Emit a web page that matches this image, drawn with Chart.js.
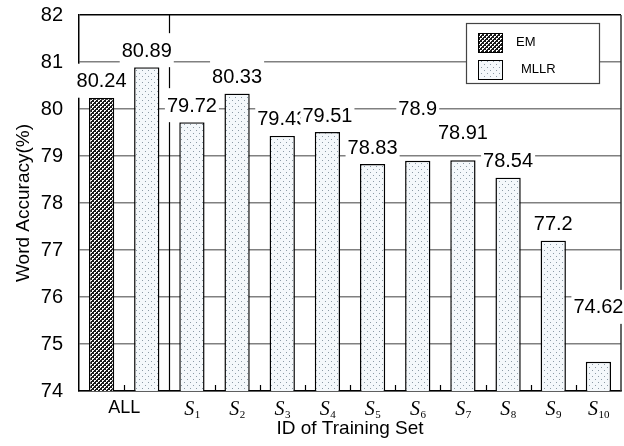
<!DOCTYPE html>
<html>
<head>
<meta charset="utf-8">
<script src="https://cdn.jsdelivr.net/npm/chart.js@4.4.0/dist/chart.umd.min.js"></script>
<style>
  body { margin: 0; background: #fff; }
</style>
</head>
<body>
<canvas id="myChart" width="624" height="446"></canvas>
<script>
// categorias (ALL ocupa dos posiciones: EM y MLLR)
const categories = ['ALL', 'ALL', 'S1', 'S2', 'S3', 'S4', 'S5', 'S6', 'S7', 'S8', 'S9', 'S10'];
const emValues = [80.24, null, null, null, null, null, null, null, null, null, null, null];
const mllrValues = [null, 80.89, 79.72, 80.33, 79.43, 79.51, 78.83, 78.9, 78.91, 78.54, 77.2, 74.62];
const yTicks = [74, 75, 76, 77, 78, 79, 80, 81, 82];

// desplazamiento extra de algunas etiquetas (px)
const labelLift = [0, 0, 0, 0, 0, 0, 0, 35, 11, 0, 0, 38];

const FONT = "'Liberation Sans', Arial, sans-serif";

/* patrones de relleno */
function makeHatch() {
    const c = document.createElement('canvas');
    c.width = 4; c.height = 4;
    const g = c.getContext('2d');
    g.fillStyle = '#ffffff';
    g.fillRect(0, 0, 4, 4);
    g.fillStyle = '#1a1a1a';
    for (let x = 0; x < 4; x++) {
        for (let y = 0; y < 4; y++) {
            if ((x + y) % 4 < 2 || (x - y + 8) % 4 === 0) g.fillRect(x, y, 1, 1);
        }
    }
    return g.createPattern(c, 'repeat');
}
function makeDots() {
    const c = document.createElement('canvas');
    c.width = 6; c.height = 6;
    const g = c.getContext('2d');
    g.fillStyle = '#f4f8fb';
    g.fillRect(0, 0, 6, 6);
    g.fillStyle = '#8c9ba6';
    g.fillRect(1, 1, 1, 1);
    g.fillRect(4, 4, 1, 1);
    return g.createPattern(c, 'repeat');
}
const hatch = makeHatch();
const dots = makeDots();

/* plugin: lineas, etiquetas de valores, leyenda y etiquetas del eje x */
const decor = {
    id: 'decor',
    beforeDatasetsDraw(chart) {
        const ctx = chart.ctx, a = chart.chartArea, xs = chart.scales.x;
        ctx.save();
        // borde derecho
        ctx.strokeStyle = '#333';
        ctx.lineWidth = 1.5;
        ctx.beginPath();
        ctx.moveTo(a.right, a.top);
        ctx.lineTo(a.right, a.bottom);
        ctx.stroke();
        // marcas entre categorias y separador ALL | S
        ctx.strokeStyle = '#000';
        ctx.lineWidth = 1.2;
        for (let i = 0; i < categories.length - 1; i++) {
            const px = Math.round((xs.getPixelForValue(i) + xs.getPixelForValue(i + 1)) / 2) + 0.5;
            const sep = categories[i] === 'ALL' && categories[i + 1] !== 'ALL';
            ctx.beginPath();
            ctx.moveTo(px, a.bottom);
            ctx.lineTo(px, sep ? a.top : a.bottom - 6);
            ctx.stroke();
        }
        ctx.restore();
    },
    afterDatasetsDraw(chart) {
        const ctx = chart.ctx, a = chart.chartArea, xs = chart.scales.x;
        ctx.save();
        // etiquetas con fondo blanco
        ctx.font = '20px ' + FONT;
        ctx.textAlign = 'center';
        ctx.textBaseline = 'middle';
        for (let i = 0; i < categories.length; i++) {
            chart.data.datasets.forEach((ds, di) => {
                const v = ds.data[i];
                if (v === null) return;
                const bar = chart.getDatasetMeta(di).data[i];
                const txt = String(v);
                const w = ctx.measureText(txt).width + 4;
                const cy = bar.y - 17 - labelLift[i];
                ctx.fillStyle = '#fff';
                ctx.fillRect(bar.x - w / 2, cy - 17, w, 34);
                ctx.fillStyle = '#000';
                ctx.fillText(txt, bar.x, cy + 1);
            });
        }

        // leyenda
        const lx = a.right - 155, ly = a.top + 8;
        ctx.fillStyle = '#fff';
        ctx.fillRect(lx, ly, 133, 60);
        ctx.strokeStyle = '#444';
        ctx.lineWidth = 1.2;
        ctx.strokeRect(lx + 0.5, ly + 0.5, 133, 60);
        const pats = [hatch, dots];
        chart.data.datasets.forEach((ds, di) => {
            const sy = ly + 10 + di * 27;
            ctx.fillStyle = pats[di];
            ctx.fillRect(lx + 12, sy, 24, 19);
            ctx.strokeStyle = '#000';
            ctx.lineWidth = 1;
            ctx.strokeRect(lx + 12.5, sy + 0.5, 24, 19);
            ctx.fillStyle = '#000';
            ctx.font = '13px ' + FONT;
            ctx.textAlign = 'left';
            ctx.fillText(ds.label, lx + 50 + di * 5, sy + 9);
        });

        // etiquetas del eje x
        ctx.textBaseline = 'alphabetic';
        let i = 0;
        while (i < categories.length) {
            let j = i;
            while (j + 1 < categories.length && categories[j + 1] === categories[i]) j++;
            const cx = (xs.getPixelForValue(i) + xs.getPixelForValue(j)) / 2;
            const lab = categories[i];
            if (lab.charAt(0) === 'S') {
                ctx.font = 'italic 20px "Liberation Serif", "Times New Roman", serif';
                const w1 = ctx.measureText('S').width;
                ctx.font = '11px "Liberation Serif", "Times New Roman", serif';
                const w2 = ctx.measureText(lab.slice(1)).width;
                const x0 = cx - (w1 + w2) / 2;
                ctx.textAlign = 'left';
                ctx.font = 'italic 20px "Liberation Serif", "Times New Roman", serif';
                ctx.fillText('S', x0, a.bottom + 24);
                ctx.font = '11px "Liberation Serif", "Times New Roman", serif';
                ctx.fillText(lab.slice(1), x0 + w1 + 0.5, a.bottom + 27);
            } else {
                ctx.textAlign = 'center';
                ctx.font = '18px ' + FONT;
                ctx.fillText(lab, cx, a.bottom + 22);
            }
            i = j + 1;
        }
        ctx.restore();
    }
};

const ctx = document.getElementById('myChart');
new Chart(ctx, {
    type: 'bar',
    data: {
        labels: categories,
        datasets: [{
            label: 'EM',
            data: emValues,
            backgroundColor: hatch,
            borderColor: '#000',
            borderWidth: 1.5,
            grouped: false
        },
        {
            label: 'MLLR',
            data: mllrValues,
            backgroundColor: dots,
            borderColor: '#000',
            borderWidth: 1.5,
            grouped: false
        }]
    },
    options: {
        responsive: false,
        animation: false,
        devicePixelRatio: 1,
        layout: { padding: { top: 15, right: 3, left: 0, bottom: 0 } },
        categoryPercentage: 1,
        barPercentage: 0.56,
        plugins: {
            legend: { display: false },
            tooltip: { enabled: false }
        },
        scales: {
            x: {
                grid: { display: false },
                border: { display: true, color: '#000', width: 1.5 },
                ticks: { display: false },
                title: {
                    display: true,
                    text: 'ID of Training Set',
                    color: '#000',
                    font: { size: 19, family: FONT },
                    padding: { top: 0, bottom: 6 }
                },
                afterFit: function(scale) {
                    scale.height = 55;
                    scale.paddingLeft = 0;
                    scale.paddingRight = 0;
                }
            },
            y: {
                min: yTicks[0],
                max: yTicks[yTicks.length - 1],
                afterBuildTicks: function(scale) {
                    scale.ticks = yTicks.map(v => ({ value: v }));
                },
                grid: {
                    drawTicks: false,
                    color: c => c.tick && c.tick.value === yTicks[yTicks.length - 1] ? '#000' : '#808080',
                    lineWidth: 1.5
                },
                border: { display: true, color: '#000', width: 1.5 },
                ticks: {
                    color: '#000',
                    padding: 16,
                    font: { size: 20, family: FONT }
                },
                title: {
                    display: true,
                    text: 'Word Accuracy(%)',
                    color: '#000',
                    font: { size: 19, family: FONT },
                    padding: { top: 12, bottom: 0 }
                },
                afterFit: function(scale) {
                    scale.width = 79;
                    scale.paddingTop = 0;
                    scale.paddingBottom = 0;
                }
            }
        }
    },
    plugins: [decor]
});
</script>
</body>
</html>
